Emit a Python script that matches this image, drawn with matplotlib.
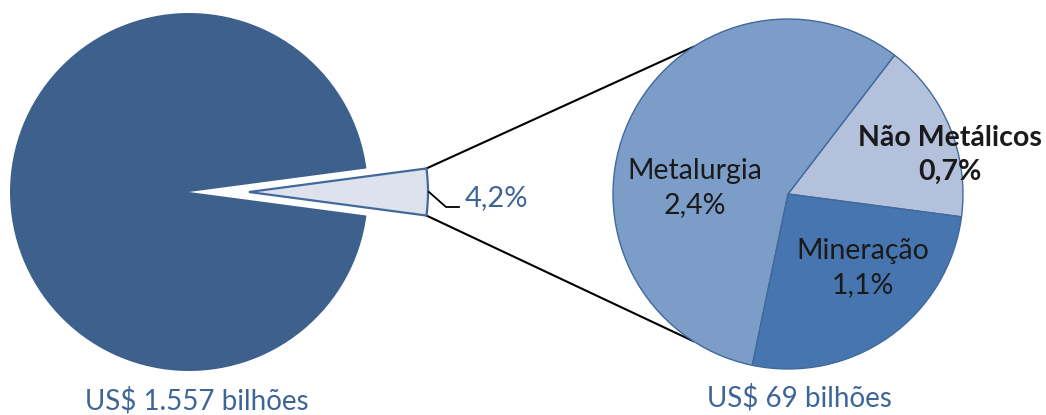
import numpy as np
import matplotlib.pyplot as plt

# total exports, share of the mining/metals group
total_label = "US$ 1.557 bilhões"
group_label = "US$ 69 bilhões"
group_share = 4.2
group_share_text = "4,2%"

# breakdown of the group (counterclockwise order)
categories = ["Não Metálicos", "Metalurgia", "Mineração"]
shares = [0.7, 2.4, 1.1]
share_texts = ["0,7%", "2,4%", "1,1%"]

W, H = 1046, 415
fig = plt.figure(figsize=(W / 100, H / 100), dpi=100)
ax = fig.add_axes([0, 0, 1, 1])

plt.rcParams["font.family"] = ["Lato", "DejaVu Sans"]
blue_txt = "#3E6597"
edge = "#41699C"

# left pie: whole total, small exploded wedge for the group
lc, lr = (189, 223), 179
half = group_share / 100 * 360 / 2
shift = 60  # explode distance, data units
lw, _ = ax.pie([group_share, 100 - group_share], startangle=-half,
               colors=["#DDE2EC", "#3D608D"], explode=[shift, 0],
               center=lc, radius=lr, frame=True,
               wedgeprops=dict(linewidth=0))
lw[0].set_edgecolor(edge)
lw[0].set_linewidth(1.6)

# right pie: the group split by segment
rc, rr = (788, 221), 175
rw, _ = ax.pie(shares, startangle=-7.5, colors=["#B4C1DD", "#7B9DC8", "#4675AF"],
               center=rc, radius=rr, frame=True,
               wedgeprops=dict(edgecolor=edge, linewidth=1.0))
ax.set_xlim(0, W)
ax.set_ylim(0, H)
ax.set_aspect("equal")
ax.axis("off")

# connector lines from exploded wedge corners to the right pie
sx = lc[0] + shift
for sgn in (1, -1):
    a = np.radians(sgn * half)
    p0 = (sx + lr * np.cos(a), lc[1] + lr * np.sin(a))
    b = np.radians(sgn * 122.8)
    p1 = (rc[0] + rr * np.cos(b), rc[1] + rr * np.sin(b))
    ax.plot([p0[0], p1[0]], [p0[1], p1[1]], color="black", lw=1.5, zorder=0)

# share label with leader
tip = (sx + lr, lc[1])
ax.plot([tip[0] + 1, tip[0] + 18, tip[0] + 31], [tip[1], tip[1] - 15, tip[1] - 15],
        color="black", lw=1.3)
ax.text(tip[0] + 37, tip[1] - 6, group_share_text, fontsize=21, color=blue_txt,
        ha="left", va="center")

# labels inside right pie
offsets = [(162, 39), (-93, 6), (75, -74)]
for cat, txt, (dx, dy) in zip(categories, share_texts, offsets):
    bold = cat == "Não Metálicos"
    ax.text(rc[0] + dx, rc[1] + dy, f"{cat}\n{txt}", fontsize=20.5,
            fontweight="bold" if bold else "normal", color="#1A1A1A",
            ha="center", va="center", linespacing=1.4)

ax.text(197, 14, total_label, fontsize=20, color=blue_txt, ha="center", va="center")
ax.text(799, 17, group_label, fontsize=20, color=blue_txt, ha="center", va="center")

fig.savefig("out.png", dpi=100)
